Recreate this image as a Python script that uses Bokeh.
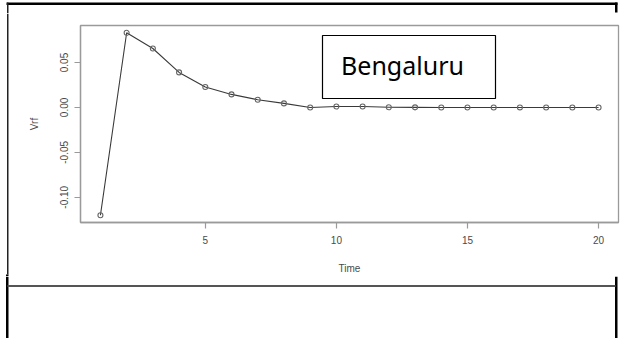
from bokeh.plotting import figure
from bokeh.layouts import column, row
from bokeh.models import BoxAnnotation, Label, FixedTicker, Range1d
from bokeh.embed import file_html
from bokeh.resources import INLINE

# Series: response of Vrf over time
time = list(range(1, 21))
vrf = [-0.120, 0.0831, 0.0656, 0.039, 0.0227, 0.0145, 0.0086, 0.0045, 0.0,
       0.001, 0.001, 0.0002, 0.0001, 0.0, 0.0, 0.0, 0.0, 0.0, 0.0, 0.0]

x_ticks = [5, 10, 15, 20]
y_ticks = [-0.10, -0.05, 0.00, 0.05]
y_tick_labels = ["-0.10", "-0.05", "0.00", "0.05"]
city = "Bengaluru"


# R-style axis limits: data range padded by 4% on each side
def padded(vals):
    lo, hi = min(vals), max(vals)
    d = (hi - lo) * 0.04
    return lo - d, hi + d


x0, x1 = padded(time)
y0, y1 = padded(vrf)

# ---- page geometry (pixels) ----
W = 621
TOP_H = 13          # strip holding the top table rule
MAIN_H = 263        # chart row
BOT_H = 62          # lower empty table cell
LEFT_W = 9          # strip holding the left table rule


def strip(w, h, rects):
    """A bare figure whose data space is its own pixel grid (y downwards)."""
    s = figure(width=w, height=h, output_backend="svg", toolbar_location=None,
               x_range=Range1d(0, w), y_range=Range1d(h, 0),
               x_axis_location=None, y_axis_location=None,
               min_border=0, min_border_left=0, min_border_right=0,
               min_border_top=0, min_border_bottom=0)
    s.outline_line_color = None
    s.xgrid.visible = False
    s.ygrid.visible = False
    s.background_fill_color = "white"
    s.border_fill_color = "white"
    for (l, r, t, b, c) in rects:
        s.quad(left=[l], right=[r], top=[t], bottom=[b],
               fill_color=c, line_color=None)
    return s


top_strip = strip(W, TOP_H, [
    (6, 617, 2, 4.5, "black"),      # top rule
    (614.5, 617, 2, 12, "black"),   # right stub
    (6.5, 8, 2, 13, "#222222"),     # left rule
])
left_strip = strip(LEFT_W, MAIN_H, [
    (6.5, 8, 0, 261, "#222222"),
    (5.5, 8, 261, MAIN_H, "black"),
])
bottom_strip = strip(W, BOT_H, [
    (5.5, 8, 0, BOT_H, "black"),         # left rule
    (614.5, 617, 0, BOT_H, "black"),     # right rule
    (7, 615, 8.5, 10.5, "#555555"),      # cell divider
])

# ---- the chart ----
p = figure(width=W - LEFT_W, height=MAIN_H, output_backend="svg",
           toolbar_location=None,
           x_range=Range1d(x0, x1), y_range=Range1d(y0, y1),
           min_border_left=71, min_border_right=3,
           min_border_top=12, min_border_bottom=54)

p.background_fill_color = "white"
p.border_fill_color = "white"
p.outline_line_color = "#9a9a9a"
p.outline_line_width = 1.3
p.xgrid.visible = False
p.ygrid.visible = False

axis_grey = "#9a9a9a"
text_grey = "#4a4a4a"
for ax in (p.xaxis[0], p.yaxis[0]):
    ax.axis_line_color = axis_grey
    ax.axis_line_width = 1.3
    ax.major_tick_line_color = axis_grey
    ax.major_tick_line_width = 1.2
    ax.major_tick_out = 6
    ax.major_tick_in = 0
    ax.minor_tick_line_color = None
    ax.major_label_text_font = "Liberation Sans"
    ax.major_label_text_font_size = "10px"
    ax.major_label_text_color = text_grey
    ax.axis_label_text_font = "Liberation Sans"
    ax.axis_label_text_font_size = "10px"
    ax.axis_label_text_font_style = "normal"
    ax.axis_label_text_color = text_grey

p.xaxis.ticker = FixedTicker(ticks=x_ticks)
p.xaxis.axis_label = "Time"
p.xaxis.major_label_standoff = 7
p.xaxis.axis_label_standoff = 16

p.yaxis.ticker = FixedTicker(ticks=y_ticks)
p.yaxis.major_label_overrides = {t: s for t, s in zip(y_ticks, y_tick_labels)}
p.yaxis.major_label_orientation = "vertical"
p.yaxis.axis_label = "Vrf"
p.yaxis.major_label_standoff = 6
p.yaxis.axis_label_standoff = 18

p.line(time, vrf, line_color="#3a3a3a", line_width=1.1)
p.scatter(time, vrf, marker="circle", size=5, fill_color=None,
          line_color="#666666", line_width=1.1)

# Caption box with city name
p.add_layout(BoxAnnotation(left=313, right=486, top=22, bottom=85,
                           left_units="canvas", right_units="canvas",
                           top_units="canvas", bottom_units="canvas",
                           fill_color="white", fill_alpha=1.0,
                           line_color="black", line_alpha=1.0, line_width=1.2))
p.add_layout(Label(x=322, y=158, x_units="screen", y_units="screen",
                   text=city, text_font="Noto Sans", text_font_size="25px",
                   text_color="black", text_align="center",
                   text_baseline="alphabetic"))

# the left strip is nested on its own so its frame is not aligned to the chart's
page = column(top_strip, row(column(left_strip, spacing=0), p, spacing=0),
              bottom_strip, spacing=0)

open("out.html", "w").write(file_html(page, INLINE))
